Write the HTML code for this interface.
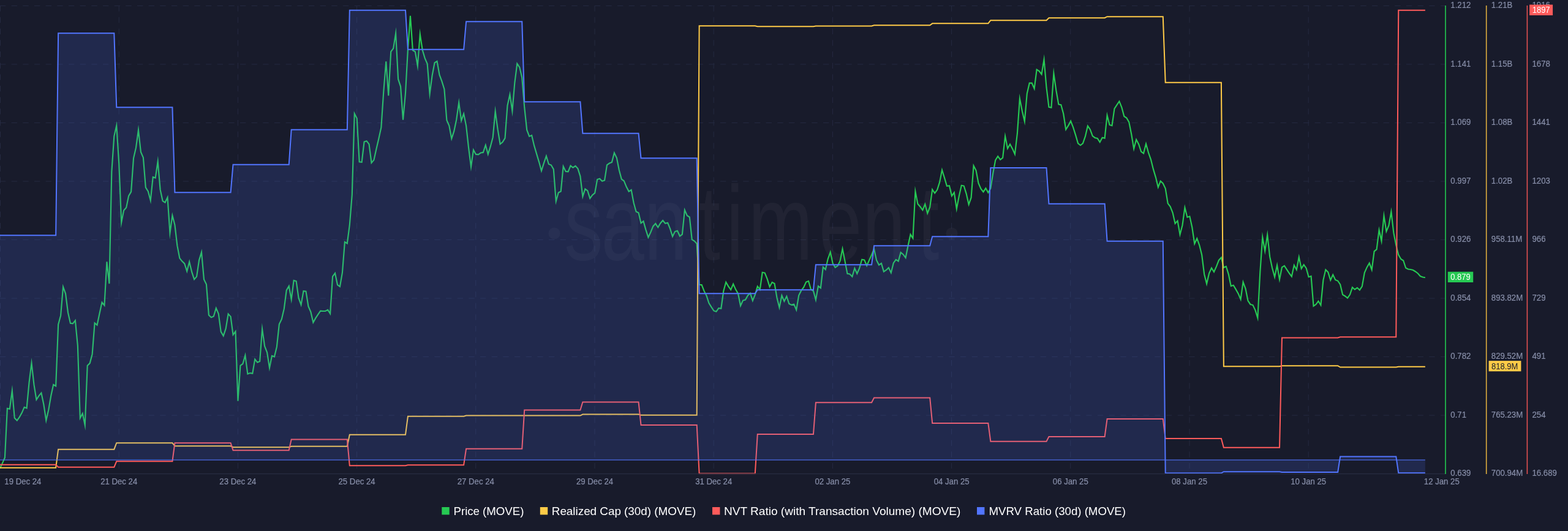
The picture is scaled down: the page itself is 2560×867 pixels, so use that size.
<!DOCTYPE html>
<html lang="en"><head><meta charset="utf-8"><title>MOVE chart</title>
<style>
html,body{margin:0;padding:0;background:#181b2b;}
body{width:2560px;height:867px;overflow:hidden;}
svg{display:block;}
text{font-family:"Liberation Sans",Arial,Helvetica,sans-serif;}
.ax{font-size:13.2px;fill:#858ca6;stroke:#858ca6;stroke-width:0.22px;}
.lg{font-size:18.6px;fill:#ffffff;}
.tg{font-size:13px;}
.wm{font-family:"Liberation Sans",sans-serif;font-size:173px;fill:#ffffff;fill-opacity:0.04;}
</style></head><body>
<svg width="2560" height="867" viewBox="0 0 2560 867">
<rect x="0" y="0" width="2560" height="867" fill="#181b2b"/>
<g stroke="#252a41" stroke-width="1" stroke-dasharray="9.333 9.333" fill="none">
<line x1="0" y1="9.45" x2="2359" y2="9.45"/>
<line x1="0" y1="104.97" x2="2359" y2="104.97"/>
<line x1="0" y1="200.49" x2="2359" y2="200.49"/>
<line x1="0" y1="296.01" x2="2359" y2="296.01"/>
<line x1="0" y1="391.53" x2="2359" y2="391.53"/>
<line x1="0" y1="487.05" x2="2359" y2="487.05"/>
<line x1="0" y1="582.57" x2="2359" y2="582.57"/>
<line x1="0" y1="678.09" x2="2359" y2="678.09"/>
<line x1="0.5" y1="9.35" x2="0.5" y2="765"/>
<line x1="194.2" y1="9.35" x2="194.2" y2="765"/>
<line x1="388.4" y1="9.35" x2="388.4" y2="765"/>
<line x1="582.6" y1="9.35" x2="582.6" y2="765"/>
<line x1="776.8" y1="9.35" x2="776.8" y2="765"/>
<line x1="971" y1="9.35" x2="971" y2="765"/>
<line x1="1165.2" y1="9.35" x2="1165.2" y2="765"/>
<line x1="1359.4" y1="9.35" x2="1359.4" y2="765"/>
<line x1="1553.6" y1="9.35" x2="1553.6" y2="765"/>
<line x1="1747.8" y1="9.35" x2="1747.8" y2="765"/>
<line x1="1942" y1="9.35" x2="1942" y2="765"/>
<line x1="2136.2" y1="9.35" x2="2136.2" y2="765"/>
</g>
<g>
<circle cx="905" cy="381" r="9.6" fill="#ffffff" fill-opacity="0.04"/>
<circle cx="1554" cy="381" r="9.6" fill="#ffffff" fill-opacity="0.04"/>
<text class="wm" transform="scale(0.73 1)" x="1261.92 1344.66 1440.68 1562.6 1624.25 1673.56 1831.51 1928.36 2052.33" y="424">santiment</text>
</g>
<polyline points="0,764.75 3.96,756.13 7.93,747.18 11.89,666.83 15.86,667.69 19.82,637.99 23.78,682.6 27.75,686.53 31.71,681.09 35.68,674.12 39.64,664.83 43.6,666.52 47.57,624.28 51.53,592.99 55.5,628.21 59.46,652.56 63.42,646.43 67.39,641.57 71.35,660.3 75.32,686.47 79.28,669.19 83.24,646.31 87.21,628.04 91.17,630.33 95.14,529.8 99.1,515.2 103.06,468.44 107.03,479.32 110.99,510.2 114.96,527.89 118.92,528.36 122.88,523.33 126.85,564.27 130.81,682.68 134.78,675.11 138.74,694.23 142.7,596.9 146.67,593.08 150.63,578.2 154.6,527.41 158.56,530.75 162.52,511.81 166.49,493.58 170.45,498.58 174.42,427.25 178.38,463.25 182.34,280.26 186.31,222.29 190.27,205.23 194.24,267.27 198.2,363.48 202.16,343.4 206.13,339.1 210.09,319.86 214.06,313.15 218.02,258.3 221.98,241.2 225.95,212.27 229.91,248.17 233.88,257.33 237.84,306.15 241.8,312.37 245.77,327.32 249.73,288.96 253.7,290.56 257.66,263.65 261.62,309.71 265.59,328.04 269.55,330.57 273.52,322.33 277.48,380.47 281.44,351.88 285.41,367.31 289.37,401.2 293.34,421.61 297.3,426.55 301.26,430.42 305.23,442.87 309.19,427.56 313.16,444.17 317.12,456.16 321.08,451.61 325.05,424.82 329.01,411.89 332.98,456.17 336.94,464.33 340.9,514.59 344.87,518.29 348.83,516.5 352.8,503.1 356.76,512.33 360.72,541.65 364.69,548.34 368.65,536.68 372.62,512.53 376.58,516.89 380.54,546.64 384.51,541.14 388.47,654.75 392.44,596.94 396.4,594.05 400.36,580.19 404.33,610.57 408.29,609.08 412.26,609.74 416.22,586.68 420.18,591.75 424.15,590 428.11,537.18 432.08,565.17 436.04,575.33 440,600.69 443.97,580.93 447.93,582.59 451.9,566.2 455.86,529.34 459.82,521.15 463.79,504.2 467.75,473.85 471.72,467.04 475.68,488.99 479.64,457.87 483.61,459.04 487.57,486.68 491.54,497.66 495.5,475.22 499.46,475.62 503.43,500.16 507.39,509.34 511.36,526.54 515.32,519.41 519.28,513.42 523.25,507.63 527.21,507.95 531.18,507.94 535.14,505.82 539.1,512.2 543.07,451.37 547.03,446.14 551,465.05 554.96,467.83 558.92,445.21 562.89,395.13 566.85,397.41 570.82,367.22 574.78,318.23 578.74,185.45 582.71,193.33 586.67,264.37 590.64,264.77 594.6,231.53 598.56,230.21 602.53,235.38 606.49,265.82 610.46,261.11 614.42,243.32 618.38,226.18 622.35,208.21 626.31,149.27 630.28,100.25 634.24,156.25 638.2,84.37 642.17,79.12 646.13,54.32 650.1,129.19 654.06,141.31 658.02,195.75 661.99,152.23 665.95,80.27 669.92,25.75 673.88,82.04 677.84,84.46 681.81,107.71 685.77,55.78 689.74,81.68 693.7,95.15 697.66,104.33 701.63,153.21 705.59,123.3 709.56,102.47 713.52,100.08 717.48,122.17 721.45,132.85 725.41,145.81 729.38,196.18 733.34,205.34 737.3,226.5 741.27,214.17 745.23,195.2 749.2,167.55 753.16,196.87 757.12,185.73 761.09,205.3 765.05,241.21 769.02,272.3 772.98,244.73 776.94,251.92 780.91,252.4 784.87,249.55 788.84,248.92 792.8,237.03 796.76,251.87 800.73,239.17 804.69,224.2 808.66,181.8 812.62,211.21 816.58,235.23 820.55,232.04 824.51,225.65 828.48,172.29 832.44,154.2 836.4,181.29 840.37,134.78 844.33,103.97 848.3,109.88 852.26,126.8 856.22,175.22 860.19,212.18 864.15,222.64 868.12,220.92 872.08,237.67 876.04,251.16 880.01,264.33 883.97,278.91 887.94,266.34 891.9,254.85 895.86,267.98 899.83,269.51 903.79,276.35 907.76,328.66 911.72,314.49 915.68,312.51 919.65,271.68 923.61,279.91 927.58,280.32 931.54,270.56 935.5,273.74 939.47,270.83 943.43,275.41 947.4,287.81 951.36,321 955.32,308.57 959.29,311.45 963.25,323.98 967.22,318.46 971.18,315.08 975.14,293.03 979.11,291.69 983.07,295.81 987.04,294.47 991,269.44 994.96,266.52 998.93,264.98 1002.89,249.58 1006.86,257.85 1010.82,277.68 1014.78,292.55 1018.75,295.45 1022.71,305.12 1026.68,312.6 1030.64,310.1 1034.6,331.18 1038.57,345.51 1042.53,347.49 1046.5,364.31 1050.46,361.15 1054.42,375.16 1058.39,387.57 1062.35,379.13 1066.32,369.42 1070.28,365.06 1074.24,371.22 1078.21,364.43 1082.17,359.98 1086.14,364.82 1090.1,363.76 1094.06,373.35 1098.03,386.09 1101.99,378.03 1105.96,376.77 1109.92,385.5 1113.88,382.56 1117.85,342.89 1121.81,352.03 1125.78,354.46 1129.74,391.04 1133.7,393.49 1137.67,397.88 1141.63,464.85 1145.6,465.11 1149.56,475.13 1153.52,482.87 1157.49,495.12 1161.45,501.3 1165.42,507.47 1169.38,508.78 1173.34,503.15 1177.31,503.74 1181.27,475.31 1185.24,460.8 1189.2,467.59 1193.16,473.12 1197.13,463.75 1201.09,472.61 1205.06,479.36 1209.02,499.17 1212.98,490.54 1216.95,489.46 1220.91,482.44 1224.88,478.71 1228.84,490.92 1232.8,481.15 1236.77,467.51 1240.73,472.72 1244.7,444.79 1248.66,445.57 1252.62,455.35 1256.59,468.19 1260.55,460.85 1264.52,462.98 1268.48,486.19 1272.44,502.11 1276.41,482.45 1280.37,491.83 1284.34,483.86 1288.3,496.01 1292.26,497.9 1296.23,496.76 1300.19,505.94 1304.16,482.35 1308.12,474.41 1312.08,469.09 1316.05,460.51 1320.01,458.88 1323.98,472.53 1327.94,474.97 1331.9,489.59 1335.87,467.21 1339.83,470.22 1343.8,436.04 1347.76,440.12 1351.72,422.83 1355.69,411.68 1359.65,430.13 1363.62,436.62 1367.58,434.03 1371.54,426.15 1375.51,406.34 1379.47,426.31 1383.44,446.91 1387.4,447.55 1391.36,451.68 1395.33,438.05 1399.29,446.78 1403.26,437.65 1407.22,423.75 1411.18,424.56 1415.15,433.76 1419.11,424.87 1423.08,416.13 1427.04,406.44 1431,424.65 1434.97,432.58 1438.93,430.03 1442.9,443.48 1446.86,441.01 1450.82,437.11 1454.79,445.39 1458.75,429.38 1462.72,423.85 1466.68,426.45 1470.64,412.18 1474.61,415.46 1478.57,420.82 1482.54,401.31 1486.5,382.85 1490.46,389.16 1494.43,312.4 1498.39,333.1 1502.36,337.44 1506.32,343.08 1510.28,333.27 1514.25,348.2 1518.21,338.17 1522.18,309.45 1526.14,315.37 1530.1,310.11 1534.07,297.68 1538.03,277.52 1542,290.34 1545.96,303.78 1549.92,303.23 1553.89,319.85 1557.85,314.33 1561.82,340.98 1565.78,320.31 1569.74,302.77 1573.71,303.57 1577.67,316.33 1581.64,333.87 1585.6,322.69 1589.56,270.64 1593.53,278.35 1597.49,299.16 1601.46,308.1 1605.42,313.36 1609.38,307.31 1613.35,314.6 1617.31,307.65 1621.28,282.8 1625.24,261.37 1629.2,255.17 1633.17,260.61 1637.13,257.57 1641.1,222.46 1645.06,242.46 1649.02,235.42 1652.99,242.88 1656.95,251.76 1660.92,217.72 1664.88,160.86 1668.84,181.19 1672.81,198.18 1676.77,152.8 1680.74,135.66 1684.7,135.63 1688.66,144.76 1692.63,113.61 1696.59,115.98 1700.56,121.26 1704.52,97.17 1708.48,142.72 1712.45,174.92 1716.41,175.69 1720.38,119.81 1724.34,147.7 1728.3,170.41 1732.27,171.08 1736.23,185.81 1740.2,211.48 1744.16,205.1 1748.12,197.66 1752.09,207.85 1756.05,220.34 1760.02,234.06 1763.98,237.23 1767.94,234.06 1771.91,222.67 1775.87,205.69 1779.84,211.39 1783.8,222.05 1787.76,224.97 1791.73,226.04 1795.69,232.17 1799.66,224.72 1803.62,225.67 1807.58,188.29 1811.55,203.96 1815.51,205.14 1819.48,177.36 1823.44,171.41 1827.4,165.46 1831.37,175.35 1835.33,190.03 1839.3,192.48 1843.26,199.36 1847.22,219.3 1851.19,242.95 1855.15,227.93 1859.12,235.37 1863.08,247.55 1867.04,250.39 1871.01,234.86 1874.97,249.16 1878.94,260.34 1882.9,276.17 1886.86,289.33 1890.83,305.62 1894.79,295.66 1898.76,299.43 1902.72,307.84 1906.68,332.12 1910.65,337.4 1914.61,347.34 1918.58,365.03 1922.54,360.54 1926.5,382.99 1930.47,367.69 1934.43,338.94 1938.4,354.66 1942.36,353.35 1946.32,371.3 1950.29,397.97 1954.25,389.36 1958.22,400.34 1962.18,416.31 1966.14,447.69 1970.11,463.36 1974.07,446.35 1978.04,437.47 1982,444.03 1985.96,435.13 1989.93,424.91 1993.89,420.44 1997.86,437.02 2001.82,434.94 2005.78,447.82 2009.75,467.13 2013.71,465.75 2017.68,472.4 2021.64,479.38 2025.6,488.77 2029.57,460.53 2033.53,471.33 2037.5,491.13 2041.46,496.96 2045.42,498.04 2049.39,506.36 2053.35,519.21 2057.32,444.27 2061.28,387.31 2065.24,409.79 2069.21,383.43 2073.17,419.2 2077.14,437.68 2081.1,452.3 2085.06,433.07 2089.03,456.35 2092.99,436.46 2096.96,433.87 2100.92,440.09 2104.88,446.08 2108.85,451.36 2112.81,433.04 2116.78,440.39 2120.74,419.8 2124.7,438.62 2128.67,432.21 2132.63,437.88 2136.6,452.17 2140.56,450.9 2144.52,499.76 2148.49,497.03 2152.45,491.69 2156.42,498.26 2160.38,457.3 2164.34,440.37 2168.31,444.41 2172.27,457.47 2176.24,448.66 2180.2,456.99 2184.16,458.51 2188.13,464.38 2192.09,481.04 2196.06,483.5 2200.02,486.6 2203.98,481.11 2207.95,469.18 2211.91,472.72 2215.88,469.79 2219.84,473.52 2223.8,467.63 2227.77,445.34 2231.73,436.39 2235.7,429.62 2239.66,440.42 2243.62,410.42 2247.59,407.08 2251.55,375.47 2255.52,393.59 2259.48,352.19 2263.44,377.79 2267.41,368.16 2271.37,345.78 2275.34,380.2 2279.3,400.18 2283.26,416.13 2287.23,423.02 2291.19,425.47 2295.16,437.51 2299.12,439.45 2303.08,440.05 2307.05,441.04 2311.01,443.5 2314.98,446.47 2318.94,450.98 2322.9,452.46 2326.87,453.25" fill="none" stroke="#26c953" stroke-width="2.15" stroke-linejoin="miter" stroke-miterlimit="10"/>
<polyline points="0,763.65 91.17,763.65 95.14,733.65 186.31,733.65 190.27,723.15 281.44,723.15 285.41,728.25 376.58,728.25 380.54,730.25 471.72,730.25 475.68,728.75 566.85,728.75 570.82,709.75 661.99,709.75 665.95,679.75 757.12,679.75 761.09,678.55 852.26,678.55 856.22,678.55 947.4,678.55 951.36,676.5 1042.53,676.5 1046.5,677.75 1137.67,677.75 1141.63,42.35 1232.8,42.35 1236.77,43.25 1327.94,43.25 1331.9,42.55 1423.08,42.55 1427.04,41.25 1518.21,41.25 1522.18,38.35 1613.35,38.35 1617.31,33.15 1708.48,33.15 1712.45,29.25 1803.62,29.25 1807.58,27.15 1898.76,27.15 1902.72,134.75 1993.89,134.75 1997.86,598.25 2089.03,598.25 2092.99,597.25 2184.16,597.25 2188.13,599.5 2279.3,599.5 2283.26,598.75 2326.87,598.75" fill="none" stroke="#ffcb47" stroke-width="2" stroke-linejoin="miter"/>
<polyline points="0,758.65 91.17,758.65 95.14,762.75 186.31,762.75 190.27,753.25 281.44,753.25 285.41,723.25 376.58,723.25 380.54,735.25 471.72,735.25 475.68,717.5 566.85,717.5 570.82,760.25 661.99,760.25 665.95,759.25 757.12,759.25 761.09,732.75 852.26,732.75 856.22,669.5 947.4,669.5 951.36,656.5 1042.53,656.5 1046.5,694 1137.67,694 1141.63,773.35 1232.8,773.35 1236.77,709 1327.94,709 1331.9,657.25 1423.08,657.25 1427.04,649.5 1518.21,649.5 1522.18,691 1613.35,691 1617.31,720.75 1708.48,720.75 1712.45,713 1803.62,713 1807.58,684 1898.76,684 1902.72,716.05 1993.89,716.05 1997.86,730.65 2089.03,730.65 2092.99,551.5 2184.16,551.5 2188.13,550.25 2279.3,550.25 2283.26,16.75 2326.87,16.75" fill="none" stroke="#ff5b5b" stroke-width="2" stroke-linejoin="miter"/>
<polygon points="0,384.25 91.17,384.25 95.14,54.25 186.31,54.25 190.27,175.25 281.44,175.25 285.41,314.25 376.58,314.25 380.54,268.75 471.72,268.75 475.68,211.75 566.85,211.75 570.82,16.75 661.99,16.75 665.95,80.75 757.12,80.75 761.09,35.25 852.26,35.25 856.22,166.25 947.4,166.25 951.36,217.75 1042.53,217.75 1046.5,258.25 1137.67,258.25 1141.63,479.25 1232.8,479.25 1236.77,473.25 1327.94,473.25 1331.9,432.25 1423.08,432.25 1427.04,401.25 1518.21,401.25 1522.18,386.25 1613.35,386.25 1617.31,274 1708.48,274 1712.45,332.75 1803.62,332.75 1807.58,393.75 1898.76,393.75 1902.72,772.55 1993.89,772.55 1997.86,770.25 2089.03,770.25 2092.99,771.05 2184.16,771.05 2188.13,745.5 2279.3,745.5 2283.26,772.25 2326.87,772.25 2326.87,751 0,751" fill="#5275ff" fill-opacity="0.16" stroke="none"/>
<line x1="0" y1="751.0" x2="2326.87" y2="751.0" stroke="#5275ff" stroke-opacity="0.55" stroke-width="1.8"/>
<polyline points="0,384.25 91.17,384.25 95.14,54.25 186.31,54.25 190.27,175.25 281.44,175.25 285.41,314.25 376.58,314.25 380.54,268.75 471.72,268.75 475.68,211.75 566.85,211.75 570.82,16.75 661.99,16.75 665.95,80.75 757.12,80.75 761.09,35.25 852.26,35.25 856.22,166.25 947.4,166.25 951.36,217.75 1042.53,217.75 1046.5,258.25 1137.67,258.25 1141.63,479.25 1232.8,479.25 1236.77,473.25 1327.94,473.25 1331.9,432.25 1423.08,432.25 1427.04,401.25 1518.21,401.25 1522.18,386.25 1613.35,386.25 1617.31,274 1708.48,274 1712.45,332.75 1803.62,332.75 1807.58,393.75 1898.76,393.75 1902.72,772.55 1993.89,772.55 1997.86,770.25 2089.03,770.25 2092.99,771.05 2184.16,771.05 2188.13,745.5 2279.3,745.5 2283.26,772.25 2326.87,772.25" fill="none" stroke="#5275ff" stroke-width="2" stroke-linejoin="miter"/>
<line x1="0" y1="773.6" x2="2360" y2="773.6" stroke="#272c42" stroke-width="1.3"/>
<line x1="2360" y1="9" x2="2360" y2="774" stroke="#21a748" stroke-width="2"/>
<line x1="2426.7" y1="9" x2="2426.7" y2="774" stroke="#e0b03e" stroke-width="1.6"/>
<line x1="2493.4" y1="9" x2="2493.4" y2="774" stroke="#e65252" stroke-width="1.6"/>
<g class="ax">
<text transform="translate(2368.3 13.05) scale(1 1.09)">1.212</text>
<text transform="translate(2434.8 13.05) scale(1 1.09)">1.21B</text>
<text transform="translate(2501.5 13.05) scale(1 1.09)">1916</text>
<text transform="translate(2368.3 108.57) scale(1 1.09)">1.141</text>
<text transform="translate(2434.8 108.57) scale(1 1.09)">1.15B</text>
<text transform="translate(2501.5 108.57) scale(1 1.09)">1678</text>
<text transform="translate(2368.3 204.09) scale(1 1.09)">1.069</text>
<text transform="translate(2434.8 204.09) scale(1 1.09)">1.08B</text>
<text transform="translate(2501.5 204.09) scale(1 1.09)">1441</text>
<text transform="translate(2368.3 299.61) scale(1 1.09)">0.997</text>
<text transform="translate(2434.8 299.61) scale(1 1.09)">1.02B</text>
<text transform="translate(2501.5 299.61) scale(1 1.09)">1203</text>
<text transform="translate(2368.3 395.13) scale(1 1.09)">0.926</text>
<text transform="translate(2434.8 395.13) scale(1 1.09)">958.11M</text>
<text transform="translate(2501.5 395.13) scale(1 1.09)">966</text>
<text transform="translate(2368.3 490.65) scale(1 1.09)">0.854</text>
<text transform="translate(2434.8 490.65) scale(1 1.09)">893.82M</text>
<text transform="translate(2501.5 490.65) scale(1 1.09)">729</text>
<text transform="translate(2368.3 586.17) scale(1 1.09)">0.782</text>
<text transform="translate(2434.8 586.17) scale(1 1.09)">829.52M</text>
<text transform="translate(2501.5 586.17) scale(1 1.09)">491</text>
<text transform="translate(2368.3 681.69) scale(1 1.09)">0.71</text>
<text transform="translate(2434.8 681.69) scale(1 1.09)">765.23M</text>
<text transform="translate(2501.5 681.69) scale(1 1.09)">254</text>
<text transform="translate(2368.3 777.21) scale(1 1.09)">0.639</text>
<text transform="translate(2434.8 777.21) scale(1 1.09)">700.94M</text>
<text transform="translate(2501.5 777.21) scale(1 1.09)">16.689</text>
<text transform="translate(7.3 791.2) scale(1 1.09)">19 Dec 24</text>
<text transform="translate(194.2 791.2) scale(1 1.09)" text-anchor="middle">21 Dec 24</text>
<text transform="translate(388.4 791.2) scale(1 1.09)" text-anchor="middle">23 Dec 24</text>
<text transform="translate(582.6 791.2) scale(1 1.09)" text-anchor="middle">25 Dec 24</text>
<text transform="translate(776.8 791.2) scale(1 1.09)" text-anchor="middle">27 Dec 24</text>
<text transform="translate(971 791.2) scale(1 1.09)" text-anchor="middle">29 Dec 24</text>
<text transform="translate(1165.2 791.2) scale(1 1.09)" text-anchor="middle">31 Dec 24</text>
<text transform="translate(1359.4 791.2) scale(1 1.09)" text-anchor="middle">02 Jan 25</text>
<text transform="translate(1553.6 791.2) scale(1 1.09)" text-anchor="middle">04 Jan 25</text>
<text transform="translate(1747.8 791.2) scale(1 1.09)" text-anchor="middle">06 Jan 25</text>
<text transform="translate(1942 791.2) scale(1 1.09)" text-anchor="middle">08 Jan 25</text>
<text transform="translate(2136.2 791.2) scale(1 1.09)" text-anchor="middle">10 Jan 25</text>
<text transform="translate(2324.8 791.2) scale(1 1.09)">12 Jan 25</text>
</g>
<g class="tg">
<rect x="2363.8" y="443.7" width="41.4" height="17.3" fill="#26c953"/>
<text transform="translate(2368.2 457.2) scale(1 1.09)" fill="#ffffff">0.879</text>
<rect x="2430.6" y="589.1" width="52.8" height="17.2" fill="#ffcb47"/>
<text transform="translate(2435.1 602.5) scale(1 1.09)" fill="#181b2b">818.9M</text>
<rect x="2497.1" y="7.6" width="38" height="17.4" fill="#ff5b5b"/>
<text transform="translate(2501.7 21.1) scale(1 1.09)" fill="#ffffff">1897</text>
</g>
<g class="lg">
<rect x="721.3" y="828" width="12.4" height="12.4" fill="#26c953"/>
<text x="740.5" y="840.6" textLength="114.9" lengthAdjust="spacingAndGlyphs">Price (MOVE)</text>
<rect x="881.8" y="828" width="12.4" height="12.4" fill="#ffcb47"/>
<text x="900.8" y="840.6" textLength="235.5" lengthAdjust="spacingAndGlyphs">Realized Cap (30d) (MOVE)</text>
<rect x="1163.0" y="828" width="12.4" height="12.4" fill="#ff5b5b"/>
<text x="1182.0" y="840.6" textLength="386.3" lengthAdjust="spacingAndGlyphs">NVT Ratio (with Transaction Volume) (MOVE)</text>
<rect x="1595.0" y="828" width="12.4" height="12.4" fill="#5275ff"/>
<text x="1614.5" y="840.6" textLength="223.5" lengthAdjust="spacingAndGlyphs">MVRV Ratio (30d) (MOVE)</text>
</g>
</svg>
</body></html>
